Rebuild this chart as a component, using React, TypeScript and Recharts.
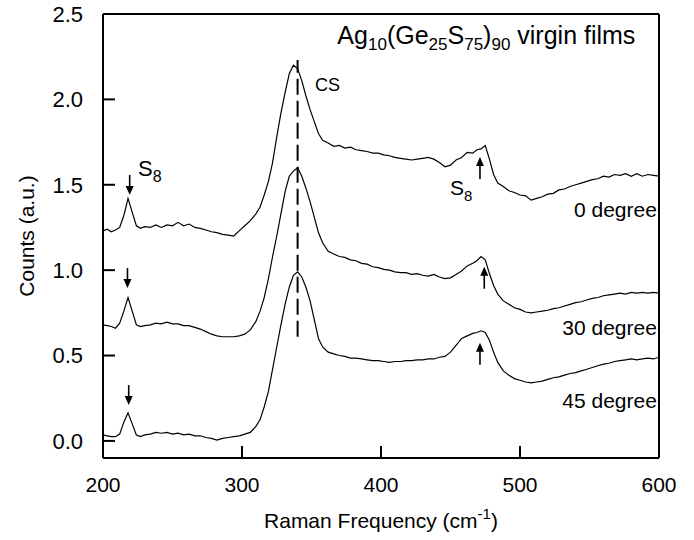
import React from 'react';
import { LineChart, Line, XAxis, YAxis, ReferenceLine, ReferenceDot } from 'recharts';

const freq = [
  200, 203, 206, 209, 212, 215, 218, 221, 224, 227,
  230, 234, 238, 242, 246, 250, 254, 258, 262, 266,
  270, 274, 278, 282, 286, 290, 294, 298, 302, 306,
  310, 313, 316, 319, 322, 325, 328, 331, 334, 337,
  340, 343, 346, 349, 352, 355, 358, 362, 366, 370,
  374, 378, 382, 386, 390, 394, 398, 402, 406, 410,
  414, 418, 422, 426, 430, 434, 438, 442, 446, 450,
  454, 458, 462, 466, 469, 472, 475, 478, 481, 484,
  488, 492, 496, 500, 504, 508, 512, 516, 520, 524,
  528, 532, 536, 540, 544, 548, 552, 556, 560, 564,
  568, 572, 576, 580, 584, 588, 592, 596, 600,
];

const deg0 = [
  1.23, 1.24, 1.225, 1.235, 1.25, 1.32, 1.42, 1.34, 1.26, 1.245,
  1.255, 1.25, 1.265, 1.25, 1.265, 1.26, 1.28, 1.26, 1.27, 1.25,
  1.245, 1.235, 1.225, 1.22, 1.21, 1.205, 1.2, 1.23, 1.26, 1.29,
  1.33, 1.37, 1.44, 1.52, 1.63, 1.78, 1.92, 2.04, 2.15, 2.2,
  2.18, 2.11, 2.02, 1.94, 1.87, 1.8, 1.76, 1.745, 1.725, 1.73,
  1.715, 1.72, 1.705, 1.7, 1.695, 1.685, 1.685, 1.675, 1.67, 1.66,
  1.655, 1.65, 1.645, 1.65, 1.655, 1.66, 1.65, 1.63, 1.605, 1.615,
  1.645, 1.66, 1.69, 1.685, 1.705, 1.71, 1.73, 1.65, 1.56, 1.51,
  1.49, 1.465, 1.455, 1.44, 1.435, 1.41, 1.42, 1.43, 1.445, 1.45,
  1.47, 1.475, 1.49, 1.5, 1.51, 1.52, 1.53, 1.535, 1.55, 1.545,
  1.56, 1.555, 1.565, 1.55, 1.565, 1.55, 1.56, 1.555, 1.55,
];

const deg30 = [
  0.68, 0.675, 0.67, 0.66, 0.69, 0.76, 0.84, 0.76, 0.68, 0.67,
  0.675, 0.68, 0.69, 0.685, 0.695, 0.685, 0.685, 0.675, 0.675, 0.665,
  0.655, 0.64, 0.625, 0.615, 0.61, 0.61, 0.61, 0.615, 0.625, 0.65,
  0.7, 0.76, 0.84, 0.95, 1.08, 1.2, 1.33, 1.46, 1.55, 1.58,
  1.6, 1.55, 1.48, 1.4, 1.31, 1.22, 1.16, 1.11, 1.095, 1.08,
  1.075, 1.06, 1.055, 1.04, 1.035, 1.02, 1.015, 1.005, 1.0, 0.99,
  0.985, 0.985, 0.975, 0.98, 0.97, 0.965, 0.975, 0.96, 0.95, 0.955,
  0.975, 0.995, 1.025, 1.04, 1.055, 1.08, 1.06, 0.98, 0.91, 0.86,
  0.82, 0.8, 0.78, 0.77, 0.755, 0.75, 0.755, 0.76, 0.765, 0.775,
  0.78, 0.79, 0.8, 0.81, 0.815, 0.825, 0.835, 0.84, 0.85, 0.855,
  0.86, 0.865, 0.86, 0.87, 0.865, 0.87, 0.865, 0.87, 0.865,
];

const deg45 = [
  0.035, 0.03, 0.025, 0.025, 0.04, 0.11, 0.165, 0.1, 0.035, 0.025,
  0.035, 0.04, 0.05, 0.045, 0.05, 0.04, 0.045, 0.035, 0.04, 0.03,
  0.03, 0.02, 0.015, 0.005, 0.015, 0.02, 0.025, 0.03, 0.04, 0.05,
  0.085, 0.125, 0.2, 0.29, 0.42, 0.55, 0.68, 0.8, 0.9, 0.97,
  0.99, 0.96, 0.9, 0.82, 0.71, 0.6, 0.55, 0.52, 0.51, 0.5,
  0.495, 0.485, 0.485, 0.48, 0.475, 0.47, 0.47, 0.465, 0.46, 0.465,
  0.465, 0.47, 0.47, 0.475, 0.475, 0.48, 0.48, 0.49, 0.495, 0.52,
  0.56, 0.6, 0.615, 0.63, 0.635, 0.645, 0.635, 0.59, 0.52, 0.46,
  0.41, 0.385, 0.365, 0.355, 0.345, 0.34, 0.345, 0.35, 0.36, 0.37,
  0.375, 0.385, 0.395, 0.4, 0.41, 0.42, 0.43, 0.44, 0.45, 0.455,
  0.465, 0.47, 0.475, 0.48, 0.475, 0.48, 0.485, 0.48, 0.49,
];

const xTicks = [200, 300, 400, 500, 600];
const yTicks = [0, 0.5, 1.0, 1.5, 2.0, 2.5];
const seriesLabels = ['0 degree', '30 degree', '45 degree'];

const makeData = (vals: number[]) => freq.map((x, i) => ({ x, y: vals[i] }));
const data0 = makeData(deg0);
const data30 = makeData(deg30);
const data45 = makeData(deg45);

const FONT = 'Liberation Sans, Arial, Helvetica, sans-serif';

const downArrows = [
  { x: 219.2, y: 1.44 },
  { x: 217.6, y: 0.895 },
  { x: 218.5, y: 0.21 },
];
const upArrows = [
  { x: 471.2, y: 1.663 },
  { x: 474.3, y: 1.02 },
  { x: 471.2, y: 0.575 },
];

const DownArrow = (props: any) => {
  const { cx, cy } = props;
  return (
    <g>
      <line x1={cx} y1={cy - 20} x2={cx} y2={cy - 7} stroke="#000" strokeWidth={1.6} />
      <polygon points={`${cx - 4},${cy - 9} ${cx + 4},${cy - 9} ${cx},${cy}`} fill="#000" />
    </g>
  );
};
const UpArrow = (props: any) => {
  const { cx, cy } = props;
  return (
    <g>
      <line x1={cx} y1={cy + 22} x2={cx} y2={cy + 7} stroke="#000" strokeWidth={1.6} />
      <polygon points={`${cx - 4},${cy + 9} ${cx + 4},${cy + 9} ${cx},${cy}`} fill="#000" />
    </g>
  );
};

const TextAt = (content: React.ReactNode, size: number, anchor: string) => (props: any) => (
  <text x={props.cx} y={props.cy} fontSize={size} fontFamily={FONT} fill="#000" textAnchor={anchor}>
    {content}
  </text>
);

const TitleShape = TextAt(
  <>
    <tspan>Ag</tspan>
    <tspan fontSize={17} dy={6}>10</tspan>
    <tspan dy={-6}>(Ge</tspan>
    <tspan fontSize={17} dy={6}>25</tspan>
    <tspan dy={-6}>S</tspan>
    <tspan fontSize={17} dy={6}>75</tspan>
    <tspan dy={-6}>)</tspan>
    <tspan fontSize={17} dy={6}>90</tspan>
    <tspan dy={-6}> virgin films</tspan>
  </>,
  25,
  'end'
);

const S8Left = TextAt(
  <>
    <tspan>S</tspan>
    <tspan fontSize={16} dy={6}>8</tspan>
  </>,
  22,
  'start'
);
const S8Right = TextAt(
  <>
    <tspan>S</tspan>
    <tspan fontSize={15} dy={6}>8</tspan>
  </>,
  21,
  'start'
);
const CSLabel = TextAt('CS', 18, 'start');

const labelPositions = [
  { x: 598.5, y: 1.31 },
  { x: 598.5, y: 0.62 },
  { x: 598.5, y: 0.193 },
];

export default function App() {
  return (
    <div style={{ position: 'absolute', left: 0, top: 0, width: 694, height: 540 }}>
      <LineChart
        width={694}
        height={540}
        margin={{ top: 14, right: 35, bottom: 0, left: 0 }}
        style={{ fontFamily: FONT }}
      >
        <XAxis
          type="number"
          dataKey="x"
          domain={[200, 600]}
          ticks={xTicks}
          interval={0}
          allowDataOverflow
          height={82}
          tickSize={-12}
          tickMargin={31}
          axisLine={{ stroke: '#000', strokeWidth: 2 }}
          tickLine={{ stroke: '#000', strokeWidth: 2 }}
          tick={{ fill: '#000', fontSize: 21, fontFamily: FONT }}
          label={{
            content: (p: any) => {
              const vb = p.viewBox || { x: 103, y: 458, width: 556 };
              const cx = vb.x + vb.width / 2;
              return (
                <text x={cx} y={vb.y + 70} textAnchor="middle" fontSize={21} fontFamily={FONT} fill="#000">
                  Raman Frequency (cm
                  <tspan fontSize={15} dy={-9}>-1</tspan>
                  <tspan dy={9}>)</tspan>
                </text>
              );
            },
          }}
        />
        <YAxis
          type="number"
          domain={[-0.1, 2.5]}
          ticks={yTicks}
          interval={0}
          allowDataOverflow
          width={103}
          tickSize={-12}
          tickMargin={32}
          tickFormatter={(v: number) => v.toFixed(1)}
          axisLine={{ stroke: '#000', strokeWidth: 2 }}
          tickLine={{ stroke: '#000', strokeWidth: 2 }}
          tick={{ fill: '#000', fontSize: 22, fontFamily: FONT }}
          label={{
            content: (p: any) => {
              const vb = p.viewBox || { x: 0, y: 14, height: 444 };
              const cy = vb.y + vb.height / 2;
              const cx = vb.x + 34;
              return (
                <text
                  x={cx}
                  y={cy}
                  transform={`rotate(-90 ${cx} ${cy})`}
                  textAnchor="middle"
                  fontSize={21}
                  fontFamily={FONT}
                  fill="#000"
                >
                  Counts (a.u.)
                </text>
              );
            },
          }}
        />
        <ReferenceLine y={2.5} stroke="#000" strokeWidth={2} />
        <ReferenceLine x={600} stroke="#000" strokeWidth={2} />
        <ReferenceLine
          segment={[
            { x: 340, y: 0.61 },
            { x: 340, y: 2.23 },
          ]}
          stroke="#000"
          strokeWidth={2}
          strokeDasharray="16 6"
        />
        <Line data={data0} dataKey="y" type="linear" stroke="#000" strokeWidth={1.2} dot={false} isAnimationActive={false} />
        <Line data={data30} dataKey="y" type="linear" stroke="#000" strokeWidth={1.2} dot={false} isAnimationActive={false} />
        <Line data={data45} dataKey="y" type="linear" stroke="#000" strokeWidth={1.2} dot={false} isAnimationActive={false} />
        {downArrows.map((a, i) => (
          <ReferenceDot key={`d${i}`} x={a.x} y={a.y} ifOverflow="visible" shape={DownArrow} />
        ))}
        {upArrows.map((a, i) => (
          <ReferenceDot key={`u${i}`} x={a.x} y={a.y} ifOverflow="visible" shape={UpArrow} />
        ))}
        {labelPositions.map((p, i) => (
          <ReferenceDot key={`l${i}`} x={p.x} y={p.y} ifOverflow="visible" shape={TextAt(seriesLabels[i], 21, 'end')} />
        ))}
        <ReferenceDot x={583} y={2.327} ifOverflow="visible" shape={TitleShape} />
        <ReferenceDot x={225.2} y={1.55} ifOverflow="visible" shape={S8Left} />
        <ReferenceDot x={449.6} y={1.44} ifOverflow="visible" shape={S8Right} />
        <ReferenceDot x={352.5} y={2.05} ifOverflow="visible" shape={CSLabel} />
      </LineChart>
    </div>
  );
}
